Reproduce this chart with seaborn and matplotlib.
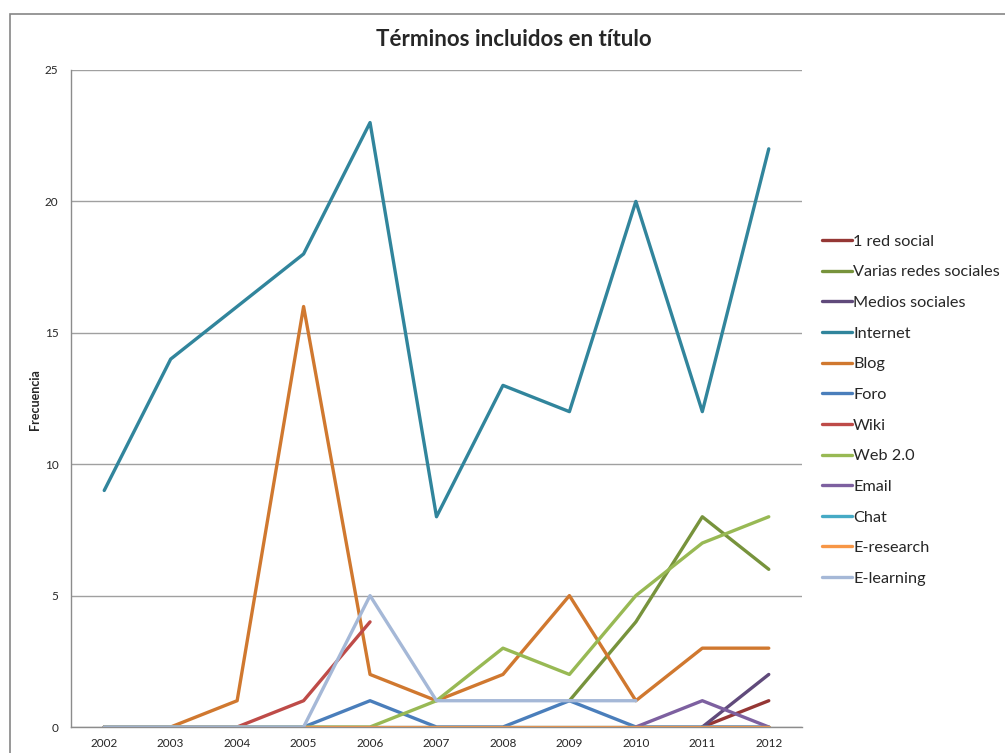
import numpy as np
import pandas as pd
import matplotlib.pyplot as plt
import seaborn as sns
from matplotlib.patches import Rectangle

# --- Data ---
YEARS = [2002, 2003, 2004, 2005, 2006, 2007, 2008, 2009, 2010, 2011, 2012]
nan = np.nan

SERIES = {
    '1 red social':           [nan, nan, nan, nan, nan, nan, nan, nan, nan, 0, 1],
    'Varias redes sociales':  [nan, nan, nan, nan, nan, nan, nan, 1, 4, 8, 6],
    'Medios sociales':        [nan, nan, nan, nan, nan, nan, nan, nan, nan, 0, 2],
    'Internet':               [9, 14, 16, 18, 23, 8, 13, 12, 20, 12, 22],
    'Blog':                   [0, 0, 1, 16, 2, 1, 2, 5, 1, 3, 3],
    'Foro':                   [0, 0, 0, 0, 1, 0, 0, 1, 0, 0, 0],
    'Wiki':                   [0, 0, 0, 1, 4, nan, nan, nan, nan, nan, nan],
    'Web 2.0':                [0, 0, 0, 0, 0, 1, 3, 2, 5, 7, 8],
    'Email':                  [nan, nan, nan, nan, nan, nan, nan, nan, 0, 1, 0],
    'Chat':                   [0, 0, 0, 0, 0, 0, 0, 0, 0, 0, 0],
    'E-research':             [0, 0, 0, 0, 0, 0, 0, 0, 0, 0, 0],
    'E-learning':             [0, 0, 0, 0, 5, 1, 1, 1, 1, nan, nan],
}

COLORS = ['#953735', '#77933C', '#604A7B', '#31859C', '#D0782F', '#4A7EBB',
          '#BE4B48', '#98B954', '#7D60A0', '#46AAC5', '#F79646', '#A5B8D7']

TITLE = 'Términos incluidos en título'
YLABEL = 'Frecuencia'


def main():
    rows = []
    for name, vals in SERIES.items():
        for yr, v in zip(YEARS, vals):
            rows.append({'year': yr, 'value': v, 'term': name})
    df = pd.DataFrame(rows).dropna()

    sns.set_theme(style='white')
    plt.rcParams['font.family'] = ['Lato', 'DejaVu Sans']

    fig = plt.figure(figsize=(10.05, 7.53), dpi=100)
    ax = fig.add_axes([71 / 1005, 1 - 727 / 753, 731 / 1005, 657 / 753])

    # outer chart border
    fig.patches.append(Rectangle((9.5 / 1005, -0.1), 1.1, 1 - 14 / 753 + 0.1,
                                 transform=fig.transFigure, fill=False,
                                 edgecolor='#868686', linewidth=1.2))

    sns.lineplot(data=df, x='year', y='value', hue='term',
                 hue_order=list(SERIES.keys()), palette=COLORS,
                 linewidth=2.4, ax=ax, legend=True)

    ax.set_xlim(2001.5, 2012.5)
    ax.set_ylim(0, 25)
    ax.set_xticks(YEARS)
    ax.set_xticklabels([str(y) for y in YEARS], fontsize=8.5)
    ax.set_yticks([0, 5, 10, 15, 20, 25])
    ax.set_yticklabels(['0', '5', '10', '15', '20', '25'], fontsize=8.5)
    ax.tick_params(axis='y', length=0, pad=9)
    ax.tick_params(axis='x', length=0, pad=8)
    ax.yaxis.grid(True, color='#A0A0A0', linewidth=1)
    ax.set_axisbelow(True)
    for s in ['top', 'right']:
        ax.spines[s].set_visible(False)
    for s in ['left', 'bottom']:
        ax.spines[s].set_color('#8C8C8C')
        ax.spines[s].set_linewidth(1)

    ax.set_xlabel('')
    ax.set_ylabel('')
    fig.text(35 / 1005, 1 - 400 / 753, YLABEL, ha='center', va='center',
             rotation=90, fontsize=9, fontweight='bold')
    fig.text(514 / 1005, 1 - 40 / 753, TITLE, ha='center', va='center',
             fontsize=16, fontweight='bold')

    handles, labels = ax.get_legend_handles_labels()
    for h in handles:
        h.set_linewidth(2.4)
    ax.legend(handles, labels, loc='upper left', bbox_to_anchor=(815 / 1005, 1 - 228 / 753),
              bbox_transform=fig.transFigure, frameon=False, fontsize=11.7,
              handlelength=1.9, handletextpad=0.05, labelspacing=1.0,
              borderaxespad=0)

    fig.savefig('out.png', dpi=100)
    plt.close(fig)


if __name__ == '__main__':
    main()
